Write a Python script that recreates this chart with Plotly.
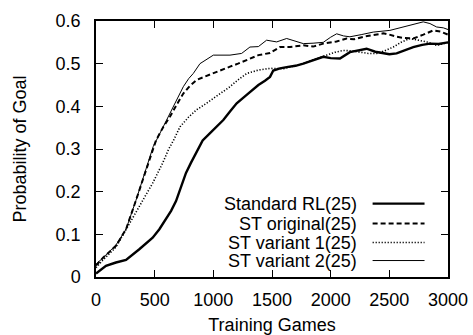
import plotly.graph_objects as go

# ---- data ----
std_x = [0, 85, 170, 256, 369, 483, 540, 597, 640, 682, 725, 767, 810, 852, 909, 972, 1030, 1085,
         1142, 1199, 1284, 1384, 1440, 1483, 1511, 1568, 1625, 1700, 1767, 1850, 1937,
         2000, 2079, 2164, 2230, 2306, 2380, 2448, 2500, 2562, 2630, 2704, 2780, 2846, 2920, 3000]
std_y = [0.008, 0.026, 0.034, 0.04, 0.065, 0.092, 0.112, 0.135, 0.155, 0.178, 0.21, 0.244, 0.268,
         0.29, 0.32, 0.337, 0.352, 0.368, 0.388, 0.407, 0.427, 0.45, 0.46, 0.469, 0.484, 0.489,
         0.492, 0.495, 0.5, 0.507, 0.516, 0.513, 0.512, 0.527, 0.53, 0.535, 0.528, 0.524, 0.522, 0.524,
         0.532, 0.539, 0.544, 0.547, 0.546, 0.55]

orig_x = [0, 60, 170, 256, 341, 426, 511, 570, 631, 690, 744, 800, 858, 930, 1000, 1070, 1142, 1210,
          1284, 1384, 1483, 1568, 1653, 1767, 1850, 1937, 2050, 2136, 2200, 2278, 2360, 2448, 2500,
          2562, 2630, 2704, 2790, 2874, 2940, 3000]
orig_y = [0.027, 0.045, 0.073, 0.112, 0.18, 0.25, 0.32, 0.35, 0.376, 0.405, 0.43, 0.448, 0.462, 0.47,
          0.477, 0.485, 0.493, 0.5, 0.508, 0.52, 0.525, 0.539, 0.539, 0.543, 0.54, 0.547, 0.552, 0.559,
          0.557, 0.563, 0.567, 0.571, 0.568, 0.563, 0.56, 0.559, 0.568, 0.578, 0.575, 0.568]

v1_x = [0, 60, 170, 256, 369, 483, 568, 620, 660, 716, 790, 858, 930, 1000, 1070, 1142, 1210, 1284,
        1384, 1483, 1597, 1680, 1767, 1860, 1966, 2040, 2108, 2180, 2250, 2320, 2392,
        2460, 2534, 2600, 2676, 2750, 2818, 2903, 3000]
v1_y = [0.022, 0.04, 0.07, 0.112, 0.166, 0.22, 0.267, 0.30, 0.32, 0.352, 0.375, 0.392, 0.405, 0.419,
        0.432, 0.446, 0.462, 0.477, 0.485, 0.489, 0.488, 0.493, 0.5, 0.51, 0.52, 0.527,
        0.531, 0.53, 0.527, 0.524, 0.524, 0.53, 0.539, 0.55, 0.559, 0.555, 0.551, 0.543, 0.55]

v2_x = [0, 60, 170, 256, 341, 426, 488, 560, 631, 690, 744, 790, 829, 886, 940, 1000, 1142, 1241,
        1312, 1384, 1454, 1540, 1625, 1700, 1767, 1850, 1937, 2000, 2051, 2110, 2164, 2260,
        2363, 2505, 2619, 2700, 2789, 2846, 2903, 2960, 3000]
v2_y = [0.03, 0.045, 0.075, 0.112, 0.18, 0.25, 0.306, 0.345, 0.384, 0.418, 0.446, 0.465, 0.477,
        0.50, 0.51, 0.52, 0.52, 0.524, 0.539, 0.54, 0.555, 0.551, 0.559, 0.552, 0.547, 0.548, 0.55,
        0.562, 0.57, 0.565, 0.563, 0.568, 0.574, 0.578, 0.586, 0.593, 0.598, 0.594, 0.586, 0.584, 0.58]

series_names = ["Standard RL(25)", "ST original(25)", "ST variant 1(25)", "ST variant 2(25)"]
x_ticks = [0, 500, 1000, 1500, 2000, 2500, 3000]
y_ticks = [0, 0.1, 0.2, 0.3, 0.4, 0.5, 0.6]

styles = [dict(width=2.4, dash="solid"),
          dict(width=2.0, dash="5px,3px"),
          dict(width=1.6, dash="1.2px,1.8px"),
          dict(width=1.0, dash="solid")]

FONT = "Liberation Sans, Arial, Helvetica, sans-serif"
FS = 18
W, H = 473, 335
ML, MR, MT, MB = 96, 24.5, 21, 57.5

fig = go.Figure()
for (xs, ys), name, st in zip([(std_x, std_y), (orig_x, orig_y), (v1_x, v1_y), (v2_x, v2_y)],
                              series_names, styles):
    fig.add_trace(go.Scatter(x=xs, y=ys, mode="lines", name=name,
                             line=dict(color="black", width=st["width"], dash=st["dash"]),
                             showlegend=False))

# gnuplot-style legend: right-aligned text followed by a line sample
pw, ph = W - ML - MR, H - MT - MB
row_px = [204, 224, 243, 261]
for name, st, ypx in zip(series_names, styles, row_px):
    yp = 1 - (ypx - MT) / ph
    fig.add_annotation(xref="paper", yref="paper", x=(359 - ML) / pw, y=yp,
                       xanchor="right", yanchor="middle", text=name, showarrow=False,
                       font=dict(family=FONT, size=FS, color="black"))
    fig.add_shape(type="line", xref="paper", yref="paper",
                  x0=(373 - ML) / pw, x1=(425 - ML) / pw, y0=yp, y1=yp,
                  line=dict(color="black", width=st["width"], dash=st["dash"]))

axis_common = dict(showline=True, linecolor="black", linewidth=1.5, mirror="ticks",
                   ticks="inside", ticklen=7, tickwidth=1.2, tickcolor="black",
                   showgrid=False, zeroline=False,
                   tickfont=dict(family=FONT, size=FS, color="black"))

fig.update_layout(
    width=W, height=H,
    margin=dict(l=ML, r=MR, t=MT, b=MB),
    paper_bgcolor="white", plot_bgcolor="white",
    xaxis=dict(range=[0, 3000], tickvals=x_ticks, ticklabelstandoff=6,
               title=dict(text="Training Games", standoff=10,
                          font=dict(family=FONT, size=FS, color="black")),
               automargin=False, **axis_common),
    yaxis=dict(range=[0, 0.6], tickvals=y_ticks, ticktext=[f"{v:g}" for v in y_ticks],
               ticklabelstandoff=10,
               title=dict(text="Probability of Goal", standoff=24,
                          font=dict(family=FONT, size=FS, color="black")),
               automargin=False, **axis_common),
    showlegend=False,
)

fig.write_html("out.html")
